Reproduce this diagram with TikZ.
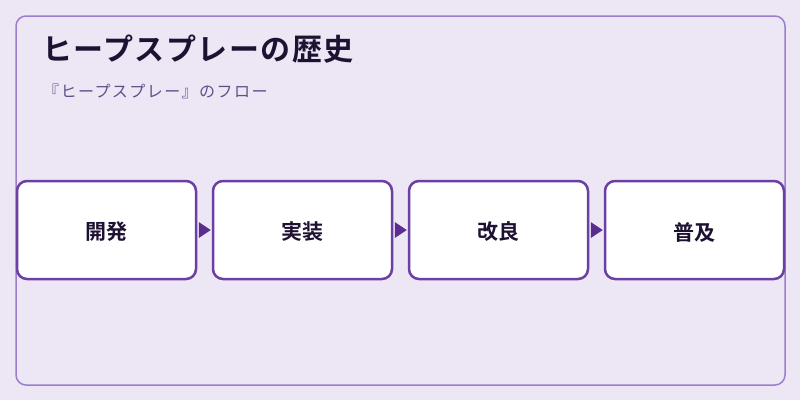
\documentclass[tikz,border=0pt]{standalone}
\usepackage{fontspec}
\setmainfont{Noto Sans CJK JP}
\newfontfamily\cjktitle[LetterSpace=5]{Noto Sans CJK JP Bold}
\newfontfamily\cjkbox{Noto Sans CJK JP Bold}
\newfontfamily\cjksub[LetterSpace=9]{Noto Sans CJK JP}
\definecolor{bg}{HTML}{EDE6F5}
\definecolor{frame}{HTML}{9B7FCC}
\definecolor{boxline}{HTML}{6B40A3}
\definecolor{arrowc}{HTML}{5A2E8E}
\definecolor{ink}{HTML}{1E1233}
\definecolor{sub}{HTML}{5E5088}
\newcommand{\lowtext}[1]{\raisebox{-2pt}[\height][\depth]{#1}}
\tikzset{
  stepbox/.style={draw=boxline, line width=2.5pt, fill=white, rounded corners=10pt,
    minimum width=179pt, minimum height=98pt, inner sep=0pt,
    font=\cjkbox\fontsize{21pt}{24pt}\selectfont, text=ink},
  tri/.style={fill=arrowc, draw=none}
}
\begin{document}
\begin{tikzpicture}[x=1pt,y=-1pt]
\useasboundingbox (0,0) rectangle (800,400);
\fill[bg] (0,0) rectangle (800,400);
\draw[frame, line width=1.5pt, rounded corners=10pt] (16,16) rectangle (785,385);
\node[anchor=base west, inner sep=0pt, text=ink, font=\cjktitle\fontsize{30pt}{33pt}\selectfont] (title) at (42,60) {ヒープスプレーの歴史};
\node[anchor=base west, inner sep=0pt, text=sub, font=\cjksub\fontsize{16pt}{19pt}\selectfont] (subtitle) at (43,97) {『ヒープスプレー』のフロー};
\node[stepbox] (s1) at (106.5,230) {\lowtext{開発}};
\node[stepbox] (s2) at (302.5,230) {\lowtext{実装}};
\node[stepbox] (s3) at (498.5,230) {\lowtext{改良}};
\node[stepbox] (s4) at (694.5,230) {\lowtext{普及}};
\foreach \a in {s1, s2, s3}{
  \path (\a.east) ++(1.5,0) coordinate (t\a);
  \fill[tri] (t\a) ++(0,-8) -- ++(12,8) -- ++(-12,8) -- cycle;
}
\end{tikzpicture}
\end{document}
